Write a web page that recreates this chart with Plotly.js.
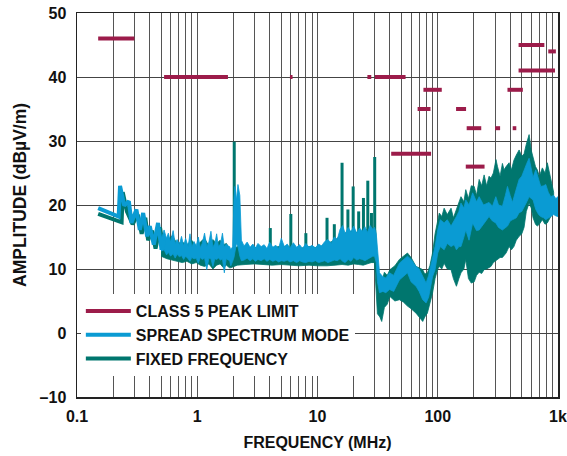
<!DOCTYPE html>
<html>
<head>
<meta charset="utf-8">
<script src="https://cdn.plot.ly/plotly-3.0.1.min.js"></script>
<style>html,body{margin:0;padding:0;background:#fff;}#chart{width:567px;height:456px;}</style>
</head>
<body>
<div id="chart"></div>
<script>
// ---- Class 5 peak limit segments (MHz, dBuV/m)
var limStart = [0.15, 0.53, 5.9, 26, 30, 41, 68, 76, 142, 174, 171, 300, 420, 380, 470, 470, 830];
var limEnd   = [0.30, 1.8, 6.2, 28, 54, 88, 87, 108, 172, 230, 245, 330, 450, 510, 770, 944, 960];
var limLevel = [46, 40, 40, 40, 40, 28, 35, 38, 35, 32, 26, 32, 32, 38, 45, 41, 44];

// ---- Spread spectrum mode: low-frequency sawtooth
var ssLowF = [0.15, 0.207, 0.222, 0.228, 0.247, 0.270, 0.284, 0.312, 0.333, 0.355, 0.383, 0.403, 0.435, 0.472, 0.505, 0.53];
var ssLowV = [19.5, 18.4, 18.2, 23.0, 19.9, 20.6, 17.2, 19.3, 16.1, 18.75, 15.1, 16.7, 13.8, 17.2, 13.0, 14.5];

// ---- Spread spectrum mode: band (upper / lower envelope)
var ssF  = [0.50, 0.53, 0.555, 0.575, 0.60, 0.63, 0.655, 0.68, 0.71, 0.74, 0.77, 0.80, 0.84, 0.87, 0.90, 0.94, 0.98, 1.02, 1.06, 1.10, 1.15, 1.20, 1.25, 1.30, 1.35, 1.40, 1.45, 1.50, 1.56, 1.62, 1.68, 1.74, 1.80, 1.86,
            1.90, 1.97, 2.02, 2.06, 2.12, 2.18, 2.26, 2.33, 2.45, 2.6, 2.75, 2.9, 3.05, 3.2, 3.4, 3.6, 3.8, 4.0, 4.25, 4.5, 4.75, 5.0, 5.3, 5.6, 5.9, 6.3, 6.7, 7.1, 7.5, 8.0, 8.5, 9.0, 9.6, 10.2, 10.8, 11.5, 12.2, 13.0, 13.8, 14.6, 15.4, 16.2, 17.0, 18.0, 19.0, 20.0, 21.2, 22.4, 23.6, 24.8, 26.0, 27.4, 28.8, 29.8,
            30.8, 31.5, 32.8, 35, 37, 39.7, 43, 48, 52, 56, 60, 66, 70, 75, 80, 84, 90.5, 95, 100, 105, 113, 120, 129, 137, 143, 150, 156, 165, 171, 182, 195, 210, 221, 240, 267, 285, 304, 320, 345, 365, 380, 400, 418, 450, 475, 500, 522, 550, 575, 600, 620, 653, 690, 719, 760, 791, 830, 870, 920, 960, 1000];
var ssHi = [14.5, 16.1, 14.8, 15.6, 14.2, 16.0, 14.0, 14.6, 13.8, 15.1, 13.6, 14.8, 13.5, 15.5, 13.4, 14.3, 13.6, 15.0, 13.3, 14.0, 15.6, 13.5, 14.2, 15.9, 13.4, 14.0, 15.5, 13.5, 13.9, 15.6, 13.4, 13.9, 13.6, 13.5,
            13.0, 13.5, 21.0, 22.9, 20.8, 23.2, 21.5, 14.5, 13.6, 14.2, 13.4, 13.9, 13.3, 14.0, 13.5, 13.8, 13.2, 14.2, 13.4, 13.7, 13.2, 14.8, 13.5, 13.9, 13.3, 14.1, 13.4, 13.8, 13.2, 14.0, 13.4, 13.7, 13.3, 13.9, 13.6, 14.3, 14.6, 14.0, 15.0, 14.6, 16.2, 16.8, 15.5, 16.5, 15.8, 16.7, 15.6, 16.4, 15.9, 16.6, 15.7, 16.8, 16.2, 16.5,
            15.5, 13.0, 9.4, 8.8, 8.6, 9.4, 9.0, 10.9, 11.5, 12.0, 11.5, 10.4, 10.0, 8.8, 7.8, 9.0, 11.5, 13.5, 16.1, 17.7, 17.2, 17.7, 16.7, 17.5, 18.2, 19.0, 20.3, 19.5, 20.8, 20.0, 21.9, 20.5, 21.3, 20.0, 20.4, 19.8, 21.3, 20.0, 19.8, 21.5, 22.9, 21.5, 20.4, 22.5, 24.0, 24.5, 25.5, 26.5, 27.3, 25.5, 24.3, 25.5, 24.0, 22.9, 23.0, 23.2, 22.0, 21.3, 21.5, 21.0, 21.3];
var ssLo = [12.8, 13.0, 12.2, 12.6, 12.0, 12.4, 11.7, 12.3, 11.9, 12.1, 11.5, 12.0, 11.6, 11.2, 11.8, 11.6, 11.7, 10.9, 11.8, 11.5, 11.7, 9.9, 11.7, 11.6, 10.4, 11.6, 11.5, 11.7, 11.4, 11.6, 9.4, 11.6, 11.5, 11.3,
            10.5, 11.2, 11.8, 12.5, 14.0, 13.5, 12.0, 11.3, 11.4, 11.7, 11.3, 11.6, 11.2, 11.5, 11.3, 11.6, 11.2, 11.5, 11.2, 11.4, 11.1, 11.3, 11.2, 11.4, 11.1, 11.3, 11.0, 11.3, 11.1, 11.0, 11.2, 11.1, 11.3, 11.0, 11.2, 11.3, 11.0, 11.2, 11.4, 11.3, 11.6, 11.2, 11.0, 11.5, 11.2, 11.8, 11.4, 11.6, 11.5, 11.3, 11.6, 11.8, 12.0, 12.0,
            11.0, 8.0, 6.3, 6.5, 6.3, 6.8, 6.5, 8.3, 8.8, 9.4, 8.0, 7.3, 6.5, 5.2, 4.7, 5.6, 8.8, 9.9, 12.5, 13.5, 13.0, 14.0, 13.5, 13.8, 13.0, 13.5, 13.5, 15.0, 16.1, 14.5, 17.2, 16.0, 16.1, 17.0, 18.2, 17.5, 17.2, 16.5, 16.1, 16.5, 16.7, 17.5, 17.7, 18.0, 18.8, 19.0, 19.8, 20.5, 21.3, 21.0, 20.8, 19.3, 18.5, 18.2, 18.0, 17.7, 18.0, 18.2, 18.5, 18.3, 18.2];

// ---- Fixed frequency: low-frequency sawtooth
var fixLowF = [0.15, 0.235, 0.240, 0.26, 0.29, 0.32, 0.345, 0.37, 0.39, 0.42, 0.45, 0.49, 0.53];
var fixLowV = [18.6, 17.3, 22.0, 19.0, 17.0, 18.5, 15.5, 18.0, 14.5, 16.0, 13.2, 16.5, 12.5];

// ---- Fixed frequency: band (upper / lower envelope)
var fixF  = [0.50, 0.56, 0.62, 0.68, 0.75, 0.82, 0.90, 0.98, 1.06, 1.15, 1.25, 1.35, 1.45, 1.55, 1.65, 1.75, 1.85,
             1.9, 2.15, 2.5, 3.0, 3.5, 4.2, 5.0, 6.0, 7.0, 8.5, 10, 12, 14, 16, 18, 20, 22, 24, 26, 28, 29.8,
             30.5, 31.5, 33, 34.2, 36, 38, 40, 44, 48, 52, 56, 60, 66, 70, 75, 78, 82, 86, 90.5, 95, 100, 103, 108, 113, 120, 129, 135, 143, 150, 156, 165, 171, 180, 190, 201, 210, 221, 232, 243, 255, 267, 277, 290, 305, 314, 330, 345, 356, 370, 392, 410, 430, 450, 475, 500, 522, 545, 575, 600, 620, 650, 673, 700, 741, 780, 815, 850, 890, 920];
var fixHi = [15.0, 14.5, 15.2, 14.0, 14.2, 13.8, 14.5, 13.5, 14.2, 14.8, 13.6, 14.6, 14.0, 14.5, 13.8, 14.0, 13.2,
             12.8, 13.5, 13.2, 13.4, 13.0, 13.3, 13.6, 13.4, 13.2, 13.5, 13.3, 14.0, 14.5, 15.5, 15.8, 16.0, 15.5, 16.0, 16.2, 16.0, 16.5,
             16.0, 9.5, 8.5, 8.0, 9.5, 9.0, 9.9, 10.5, 11.5, 12.0, 12.5, 11.8, 10.4, 10.2, 9.9, 9.2, 9.4, 10.5, 12.5, 15.5, 18.0, 18.75, 18.2, 19.5, 18.5, 19.5, 18.0, 19.3, 20.5, 21.3, 20.5, 22.4, 21.0, 23.0, 22.9, 21.5, 24.0, 23.0, 24.7, 23.0, 24.5, 24.2, 25.0, 27.1, 26.0, 24.5, 26.5, 25.5, 26.0, 26.6, 25.5, 27.0, 27.8, 28.6, 27.6, 28.0, 29.5, 31.0, 28.5, 27.6, 26.0, 25.5, 24.5, 25.8, 25.0, 26.6, 25.0, 22.9, 22.0];
var fixLo = [12.0, 11.6, 11.4, 11.2, 11.0, 11.2, 10.8, 11.0, 10.6, 10.4, 10.8, 10.0, 10.6, 10.8, 10.2, 10.6, 10.2,
             10.2, 10.6, 10.7, 10.8, 10.7, 10.6, 10.7, 10.6, 10.5, 10.6, 10.5, 10.5, 10.6, 10.7, 10.6, 10.8, 10.7, 10.6, 10.8, 11.0, 11.0,
             8.0, 3.0, 2.5, 1.8, 4.0, 4.5, 5.7, 5.0, 5.2, 4.8, 4.2, 3.8, 3.1, 2.5, 1.8, 2.5, 3.1, 4.5, 6.25, 8.5, 10.0, 10.4, 10.0, 10.9, 10.0, 9.9, 8.5, 7.3, 8.5, 9.4, 10.0, 11.5, 8.5, 7.8, 8.0, 9.0, 9.5, 9.3, 9.9, 10.0, 10.2, 10.4, 11.0, 11.3, 11.5, 11.8, 11.8, 12.0, 12.5, 13.5, 13.0, 13.5, 14.5, 15.1, 15.5, 16.5, 19.0, 20.3, 19.5, 18.0, 17.0, 16.7, 17.0, 17.7, 17.0, 17.2, 18.0, 18.5, 19.0];

// ---- Fixed frequency: narrow spurs (MHz, peak dBuV/m)
var fixSpurF   = [2.03, 4.05, 6.0, 8.0, 12.0, 13.8, 16.0, 17.9, 19.8, 22.0, 24.1, 26.2, 28.1, 29.9];
var fixSpurTop = [29.9, 16.4, 18.6, 15.6, 18.0, 17.0, 26.6, 19.3, 22.9, 19.0, 21.1, 23.8, 18.75, 27.5];
var spurBase = 11;

// ---- Axis ticks
var xTickVals = [], xTickText = [];
[0.1, 1, 10, 100].forEach(function (d) {
  for (var k = 1; k <= 9; k++) { xTickVals.push(d * k); xTickText.push(k === 1 ? (d === 0.1 ? '0.1' : String(d)) : ''); }
});
xTickVals.push(1000); xTickText.push('1k');
var yTickVals = [-10, 0, 10, 20, 30, 40, 50];
var yTickText = ['–10', '0', '10', '20', '30', '40', '50'];

var cLim = '#9c1c4a', cSS = '#0a9bd3', cFix = '#00766e';

function band(F, Hi, Lo) {
  return { x: F.concat(F.slice().reverse()), y: Hi.concat(Lo.slice().reverse()) };
}
var limX = [], limY = [];
for (var i = 0; i < limStart.length; i++) { limX.push(limStart[i], limEnd[i], null); limY.push(limLevel[i], limLevel[i], null); }
var spX = [], spY = [];
for (var j = 0; j < fixSpurF.length; j++) { spX.push(fixSpurF[j], fixSpurF[j], null); spY.push(spurBase, fixSpurTop[j], null); }

var fb = band(fixF, fixHi, fixLo), sb = band(ssF, ssHi, ssLo);

var traces = [
  { x: fb.x, y: fb.y, type: 'scatter', mode: 'lines', fill: 'toself', fillcolor: cFix, line: { color: cFix, width: 0.8 }, showlegend: false, hoverinfo: 'skip' },
  { x: spX, y: spY, type: 'scatter', mode: 'lines', line: { color: cFix, width: 3 }, showlegend: false, hoverinfo: 'skip' },
  { x: fixLowF, y: fixLowV, type: 'scatter', mode: 'lines', name: 'FIXED FREQUENCY', line: { color: cFix, width: 4 }, legendrank: 3 },
  { x: sb.x, y: sb.y, type: 'scatter', mode: 'lines', fill: 'toself', fillcolor: cSS, line: { color: cSS, width: 0.8 }, showlegend: false, hoverinfo: 'skip' },
  { x: ssLowF, y: ssLowV, type: 'scatter', mode: 'lines', name: 'SPREAD SPECTRUM MODE', line: { color: cSS, width: 4 }, legendrank: 2 },
  { x: limX, y: limY, type: 'scatter', mode: 'lines', name: 'CLASS 5 PEAK LIMIT', line: { color: cLim, width: 4 }, connectgaps: false, legendrank: 1 }
];

var fnt = { family: 'Arial, "Liberation Sans", sans-serif', size: 16, color: '#111', weight: 'bold' };
var yTitleFont = { family: 'Arial, "Liberation Sans", sans-serif', size: 17.5, color: '#111', weight: 'bold' };
var layout = {
  width: 567, height: 456,
  margin: { l: 77, r: 9, t: 13, b: 59 },
  paper_bgcolor: '#fff', plot_bgcolor: '#fff',
  font: fnt,
  showlegend: true,
  xaxis: {
    type: 'log', range: [-1, 3], tickmode: 'array', tickvals: xTickVals, ticktext: xTickText,
    showgrid: true, gridcolor: '#555', gridwidth: 1, zeroline: false,
    showline: true, linecolor: '#222', linewidth: 1.5, mirror: true, ticks: '',
    ticklabelstandoff: 4,
    tickfont: fnt, title: { text: 'FREQUENCY (MHz)', font: fnt, standoff: 13 }
  },
  yaxis: {
    range: [-10, 50], tickmode: 'array', tickvals: yTickVals, ticktext: yTickText,
    showgrid: true, gridcolor: '#444', gridwidth: 1, zeroline: false,
    showline: true, linecolor: '#222', linewidth: 1.5, mirror: true, ticks: '',
    ticklabelstandoff: 6,
    tickfont: fnt
  },
  annotations: [{
    text: 'AMPLITUDE (dBµV/m)', font: yTitleFont, textangle: -90, showarrow: false,
    xref: 'paper', yref: 'paper', x: 0, y: 0.5, xanchor: 'center', yanchor: 'middle',
    xshift: -57, yshift: 10
  }],
  legend: {
    x: 0.008, y: 0.268, xanchor: 'left', yanchor: 'top', bgcolor: '#fff', borderwidth: 0,
    font: fnt, itemwidth: 45, tracegroupgap: 0
  }
};
Plotly.newPlot('chart', traces, layout, { displayModeBar: false, staticPlot: true });
</script>
</body>
</html>
